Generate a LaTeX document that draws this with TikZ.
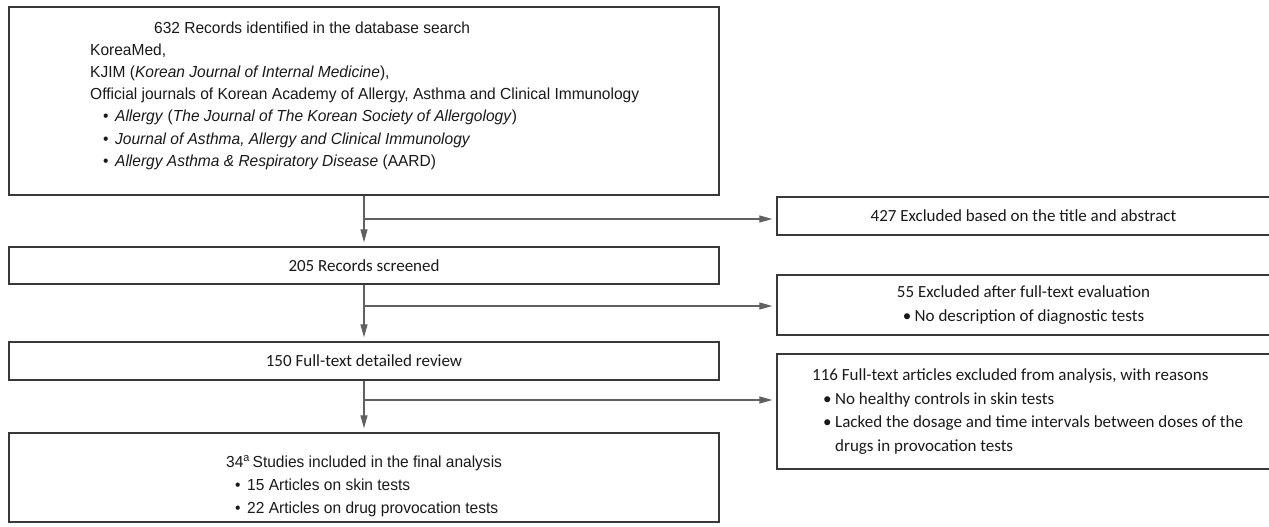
\documentclass[tikz,border=0pt]{standalone}
\usepackage{fontspec}
\setmainfont{Carlito}
\newfontfamily\narrowfont[FakeStretch=0.97]{Liberation Sans}
\usetikzlibrary{positioning,arrows.meta}
\newcommand{\bul}{\makebox[12pt][l]{•}}

\begin{document}
\begin{tikzpicture}[x=1pt,y=-1pt,
  box/.style={draw=black!78,line width=1.4pt,rectangle,inner sep=0pt},
  flow/.style={draw=black!62,line width=1.3pt,-{Triangle[length=13pt,width=7pt]},shorten >=4pt},
  txt/.style={inner sep=0pt,text=black!90,font=\fontsize{17}{23.5}\selectfont},
  ntxt/.style={inner sep=0pt,text=black!90,font=\narrowfont\fontsize{16}{22.2}\selectfont}]

  \useasboundingbox (0,0) rectangle (1269,527);

  % left column
  \node[box,minimum width=710pt,minimum height=188pt] (rec) at (364,101) {};
  \node[box,txt,minimum width=710pt,minimum height=37pt] (scr) at (364,265.5) {205 Records screened};
  \node[box,txt,minimum width=710pt,minimum height=38pt] (full) at (364,361) {150 Full-text detailed review};
  \node[box,minimum width=710pt,minimum height=89pt] (incl) at (364,477.5) {};

  \node[ntxt,align=left,anchor=west] (recTxt) at (90,95.5) {%
    \hspace*{64pt}632 Records identified in the database search\\
    KoreaMed,\\
    KJIM (\textit{Korean Journal of Internal Medicine}),\\
    Official journals of Korean Academy of Allergy, Asthma and Clinical Immunology\\
    \hspace*{13pt}\bul\textit{Allergy} (\textit{The Journal of The Korean Society of Allergology})\\
    \hspace*{13pt}\bul\textit{Journal of Asthma, Allergy and Clinical Immunology}\\
    \hspace*{13pt}\bul\textit{Allergy Asthma \& Respiratory Disease} (AARD)};
  \node[ntxt,font=\narrowfont\fontsize{16}{23}\selectfont,align=left,anchor=west] (inclTxt) at (226,486) {%
    34\textsuperscript{a}\,Studies included in the final analysis\\
    \hspace*{9pt}\bul 15 Articles on skin tests\\
    \hspace*{9pt}\bul 22 Articles on drug provocation tests};

  % right column
  \node[box,txt,minimum width=493pt,minimum height=38pt] (exA) at (1023.5,216) {427 Excluded based on the title and abstract};
  \node[box,txt,align=center,minimum width=493pt,minimum height=60pt] (exB) at (1023.5,305) {55 Excluded after full-text evaluation\\ \bul No description of diagnostic tests};
  \node[box,minimum width=493pt,minimum height=115pt] (exC) at (1023.5,411.5) {};
  \node[txt,align=left,anchor=west] (exCTxt) at (812,411.5) {%
    116 Full-text articles excluded from analysis, with reasons\\
    \hspace*{11pt}\bul No healthy controls in skin tests\\
    \hspace*{11pt}\bul Lacked the dosage and time intervals between doses of the\\
    \hspace*{23pt}drugs in provocation tests};

  % connectors
  \coordinate (j1) at (364,219);
  \coordinate (j2) at (364,306);
  \coordinate (j3) at (364,400);
  \draw[flow] (rec.south) -- (scr.north);
  \draw[flow] (scr.south) -- (full.north);
  \draw[flow] (full.south) -- (incl.north);
  \draw[flow] (j1) -- (j1 -| exA.west);
  \draw[flow] (j2) -- (j2 -| exB.west);
  \draw[flow] (j3) -- (j3 -| exC.west);
\end{tikzpicture}
\end{document}
